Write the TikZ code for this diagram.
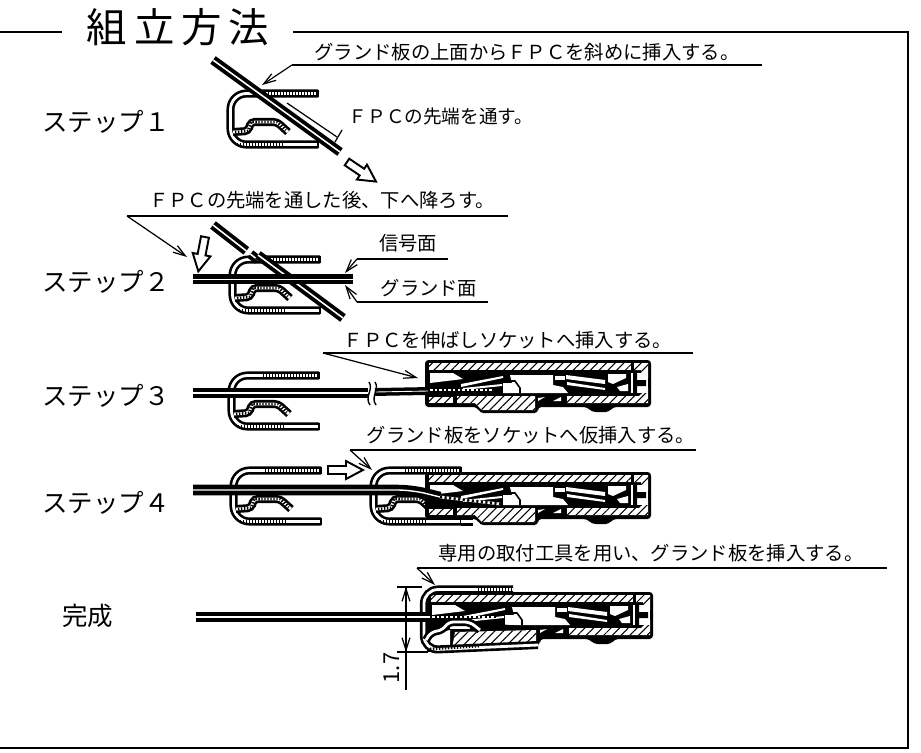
\documentclass[tikz,border=0pt]{standalone}
\usepackage{fontspec}
\usetikzlibrary{arrows.meta,patterns.meta}
\setmainfont{Noto Sans CJK JP}
\newfontfamily\titlefont[LetterSpace=17]{Noto Sans CJK JP}

\tikzset{
  rule/.style={line width=.9pt},
  leader/.style={line width=.7pt,-{Straight Barb[length=7pt,width=4.5pt]}},
  note/.style={inner sep=0pt,font=\fontsize{11pt}{13pt}\selectfont},
  steplabel/.style={inner sep=0pt,anchor=west,font=\fontsize{14.5pt}{17pt}\selectfont},
  fpcline/.style={line width=2.2pt,double=white,double distance=.9pt},
  widefpc/.style={line width=2.6pt,double=white,double distance=.8pt},
  wall/.style={line width=1.5pt,double=white,double distance=1.6pt},
  wallticks/.style={line width=1.6pt,dash pattern=on .8pt off .9pt},
  dotrow/.style={line width=1.6pt,dash pattern=on 1.2pt off 1.4pt},
  hatched/.style={preaction={fill=white},pattern={Lines[angle=45,distance=3.5pt,line width=.6pt]}},
  plate/.pic={
    \draw[wall,rounded corners=9] (91,3.5) -- (3.5,3.5) -- (3.5,54.5) -- (91,54.5);
    \draw[line width=1pt] (91,0) -- (91,7);
    \draw[line width=1pt] (91,51) -- (91,58);
    \draw[wall,rounded corners=2] (6,42) -- (21,41) -- (24,32) -- (50,32) -- (61,42);
    \draw[wallticks] (35,3.5) -- (89,3.5);
    \draw[wallticks] (10,54.5) -- (56,54.5);
    \draw[wallticks] (8,42) -- (21,41) -- (24,32) -- (50,32) -- (59,40);
  },
  socket/.pic={
    \fill[black,rounded corners=2] (0,0) -- (226,0) -- (226,47) -- (188,47) -- (184,52) -- (167,52)
      -- (162,47) -- (113,47) -- (113,53) -- (55,53) -- (52,47) -- (0,47) -- cycle;
    \path[hatched] (4,3) -- (206,3) -- (206,10) -- (4,10) -- cycle;
    \path[hatched] (209,3) -- (223,3) -- (223,18) -- (216,18) -- (216,10) -- (209,10) -- cycle;
    \path[hatched] (4,37) -- (28,37) -- (28,43) -- (4,43) -- cycle;
    \path[hatched] (32,36) -- (110,36) -- (110,50) -- (57,50) -- (50,43) -- (32,43) -- cycle;
    \path[hatched] (142,36) -- (214,36) -- (223,28) -- (223,43) -- (142,43) -- cycle;
    \fill[white] (113,38) -- (120,37) -- (113,41) -- cycle;
    \fill[white] (128,41) -- (136,37) -- (136,41) -- cycle;
    % inside of the housing
    \fill[white] (5,13) -- (28,13) -- (38,19) -- (5,23) -- cycle;
    \fill[white] (36,24) -- (78,16) -- (78,18) -- (36,27) -- cycle;
    \fill[white] (38,28) -- (77,24) -- (77,26) -- (38,30) -- cycle;
    \fill[white] (85,15) -- (128,15) -- (128,25) -- (138,27) -- (143,33) -- (78,33) -- (78,23) -- (87,23) -- cycle;
    \draw[line width=.9pt] (80,21) -- (90,21) -- (95,28) -- (95,33);
    \fill[white] (130,16) -- (140,16) -- (140,20) -- (130,20) -- cycle;
    \fill[white] (141,15) -- (180,20) -- (180,24) -- (141,19) -- cycle;
    \fill[white] (142,22) -- (180,28) -- (180,30) -- (142,25) -- cycle;
    \fill[white] (183,14) -- (201,14) -- (201,18) -- (188,24) -- (183,22) -- cycle;
    \fill[white] (192,27) -- (203,24) -- (203,31) -- (195,31) -- cycle;
    \fill[white] (206,13) -- (223,13) -- (223,33) -- (206,33) -- cycle;
    \fill[black] (208,13) -- (212,13) -- (212,20) -- (221,20) -- (221,26) -- (212,26) -- (212,33) -- (208,33) -- cycle;
  },
  openarrow/.pic={
    \draw[line width=1.1pt,fill=white] (0,-4) -- (18,-4) -- (18,-9) -- (35,0) -- (18,9) -- (18,4) -- (0,4) -- cycle;
  },
}

\begin{document}
\begin{tikzpicture}[x=0.02cm,y=-0.02cm]
  \useasboundingbox (0,0) rectangle (921,752);

  % frame and title
  \node[inner sep=0pt,font=\fontsize{23pt}{26pt}\titlefont] (title) at (178,27) {組立方法};
  \coordinate (frameA) at (0,32);
  \coordinate (frameB) at (62,32);
  \coordinate (frameC) at (293,32);
  \coordinate (frameD) at (908,32);
  \coordinate (frameE) at (908,748);
  \coordinate (frameF) at (0,748);
  \draw[rule] (frameA) -- (frameB);
  \draw[line width=1.3pt] (frameC) -- (frameD) -- (frameE) -- (frameF);

  % step labels
  \node[steplabel] (stepA) at (42,122) {ステップ１};
  \node[steplabel] (stepB) at (42,282) {ステップ２};
  \node[steplabel] (stepC) at (42,396) {ステップ３};
  \node[steplabel] (stepD) at (42,503) {ステップ４};
  \node[steplabel] (stepE) at (62,616) {完成};

  % step 1
  \pic at (227,90) {plate};
  \coordinate (fpcAa) at (213,60);
  \coordinate (fpcAb) at (340,152);
  \draw[fpcline] (fpcAa) -- (fpcAb);
  \coordinate (fpcAc) at (287,103);
  \coordinate (fpcAd) at (337,137);
  \draw[line width=.7pt] (fpcAc) -- (fpcAd);
  \pic[rotate=-34] at (347,162) {openarrow};
  \node[note] (noteA) at (527,52) {グランド板の上面からＦＰＣを斜めに挿入する。};
  \coordinate (shelfAa) at (762,65);
  \coordinate (shelfAb) at (292,65);
  \coordinate (tipA) at (262,85);
  \draw[rule] (shelfAa) -- (shelfAb);
  \draw[leader] (shelfAb) -- (tipA);
  \node[note,font=\fontsize{10.6pt}{13pt}\selectfont] (noteB) at (441,116) {ＦＰＣの先端を通す。};
  \coordinate (tickAa) at (342,130);
  \coordinate (tickAb) at (335,142);
  \draw[line width=.7pt] (tickAa) -- (tickAb);

  % step 2
  \node[note] (noteC) at (322,200) {ＦＰＣの先端を通した後、下へ降ろす。};
  \coordinate (shelfBa) at (508,216);
  \coordinate (shelfBb) at (127,216);
  \coordinate (tipB) at (187,257);
  \draw[rule] (shelfBa) -- (shelfBb);
  \draw[leader] (shelfBb) -- (tipB);
  \pic[rotate=-101] at (205,237) {openarrow};
  \pic at (229,256) {plate};
  \coordinate (ghostBa) at (213,225);
  \coordinate (ghostBb) at (258,260);
  \coordinate (fpcBa) at (258,255);
  \coordinate (fpcBb) at (343,318);
  \draw[fpcline,dash pattern=on 24 off 3] (ghostBa) -- (ghostBb);
  \draw[fpcline] (fpcBa) -- (fpcBb);
  \coordinate (fpcBc) at (193,279);
  \coordinate (fpcBd) at (353,279);
  \draw[line width=2.7pt,double=white,double distance=.5pt] (fpcBc) -- (fpcBd);
  \node[note] (signal) at (408,243) {信号面};
  \coordinate (shelfCa) at (448,259);
  \coordinate (shelfCb) at (357,259);
  \coordinate (tipC) at (345,273);
  \draw[rule] (shelfCa) -- (shelfCb);
  \draw[leader] (shelfCb) -- (tipC);
  \node[note] (ground) at (429,288) {グランド面};
  \coordinate (shelfDa) at (488,302);
  \coordinate (shelfDb) at (357,302);
  \coordinate (tipD) at (345,285);
  \draw[rule] (shelfDa) -- (shelfDb);
  \draw[leader] (shelfDb) -- (tipD);

  % step 3
  \pic at (228,372) {plate};
  \pic at (425,360) {socket};
  \coordinate (fpcCa) at (193,393);
  \coordinate (fpcCb) at (368,393);
  \coordinate (fpcCc) at (375,392);
  \coordinate (fpcCd) at (428,391);
  \draw[widefpc] (fpcCa) -- (fpcCb);
  \draw[line width=2pt,double=white,double distance=.5pt] (fpcCc) -- (fpcCd);
  \draw[line width=.8pt] (369,382) .. controls (374,389) and (364,397) .. (370,405);
  \draw[line width=.8pt] (375,382) .. controls (380,389) and (370,397) .. (376,405);
  \draw[white,line width=1.6pt] (428,390) -- (492,390);
  \draw[dotrow] (428,390) -- (492,390);
  \node[note] (noteD) at (508,340) {ＦＰＣを伸ばしソケットへ挿入する。};
  \coordinate (shelfEa) at (693,353);
  \coordinate (shelfEb) at (323,353);
  \coordinate (tipE) at (418,378);
  \draw[rule] (shelfEa) -- (shelfEb);
  \draw[leader] (shelfEb) -- (tipE);

  % step 4
  \pic at (230,467) {plate};
  \pic at (370,467) {plate};
  \draw[wall] (461,521.5) -- (473,521.5);
  \pic at (328,470) {openarrow};
  \pic at (425,472) {socket};
  \coordinate (fpcDa) at (193,490);
  \coordinate (fpcDb) at (412,490);
  \coordinate (fpcDc) at (440,497);
  \coordinate (fpcDd) at (500,504);
  \draw[widefpc,rounded corners=8] (fpcDa) -- (fpcDb) -- (fpcDc);
  \draw[white,line width=1.6pt] (fpcDc) -- (fpcDd);
  \draw[dotrow] (fpcDc) -- (fpcDd);
  \node[note] (noteE) at (531,435) {グランド板をソケットへ仮挿入する。};
  \coordinate (shelfFa) at (696,450);
  \coordinate (shelfFb) at (350,450);
  \coordinate (tipF) at (372,470);
  \draw[rule] (shelfFa) -- (shelfFb);
  \draw[leader] (shelfFb) -- (tipF);

  % finished state
  \pic at (427,592) {socket};
  \fill[black] (427,622) -- (480,622) -- (538,628) -- (538,646) -- (427,652) -- cycle;
  \fill[white] (430,634) -- (450,630) -- (450,647) -- (430,649) -- cycle;
  \fill[white] (450,625) -- (470,625) -- (470,629) -- (450,629) -- cycle;
  \path[hatched] (455,632) -- (536,630) -- (536,644) -- (452,649) -- cycle;
  \draw[wall,rounded corners=8] (513,589.5) -- (424,589.5) -- (424,650) -- (538,645);
  \draw[wallticks] (478,589.5) -- (511,589.5);
  \draw[wall,rounded corners=3] (426,640) -- (431,632) -- (443,630) -- (448,622) -- (470,622) -- (480,630);
  \draw[wallticks] (430,649) -- (480,646);
  \coordinate (fpcEa) at (196,617);
  \coordinate (fpcEb) at (430,617);
  \coordinate (fpcEc) at (496,617);
  \draw[widefpc] (fpcEa) -- (fpcEb);
  \draw[white,line width=1.6pt] (fpcEb) -- (fpcEc);
  \draw[dotrow] (fpcEb) -- (fpcEc);
  \node[note] (noteF) at (651,553) {専用の取付工具を用い、グランド板を挿入する。};
  \coordinate (shelfGa) at (887,568);
  \coordinate (shelfGb) at (417,568);
  \coordinate (tipG) at (435,585);
  \draw[rule] (shelfGa) -- (shelfGb);
  \draw[leader] (shelfGb) -- (tipG);

  % dimension
  \coordinate (dimAa) at (397,587);
  \coordinate (dimAb) at (422,587);
  \coordinate (dimBa) at (397,652);
  \coordinate (dimBb) at (428,652);
  \coordinate (dimC) at (406,587);
  \coordinate (dimD) at (406,652);
  \coordinate (dimE) at (406,690);
  \draw[line width=.6pt] (dimAa) -- (dimAb);
  \draw[line width=.6pt] (dimBa) -- (dimBb);
  \draw[leader] (dimD) -- (dimC);
  \draw[leader] (dimC) -- (dimD);
  \draw[line width=.6pt] (dimD) -- (dimE);
  \node[inner sep=0pt,rotate=90,font=\fontsize{12.5pt}{14pt}\selectfont] (dimtext) at (392,668) {1.7};
\end{tikzpicture}
\end{document}
